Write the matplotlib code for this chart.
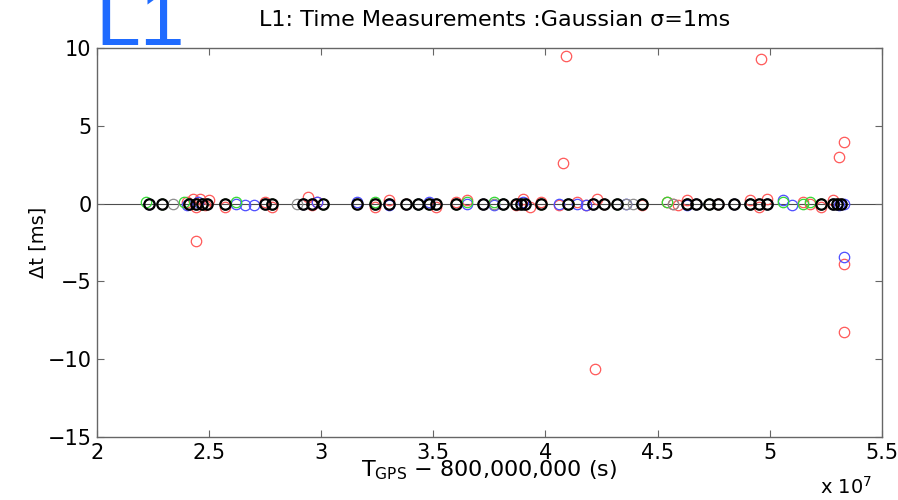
import numpy as np
import matplotlib
matplotlib.use('Agg')
import matplotlib.pyplot as plt

# --- data (x in units of 1e7 s, dt in ms) ---
red_x = [2.40, 2.43, 2.44, 2.46, 2.48, 2.50, 2.57, 2.75, 2.78, 2.94, 2.96, 2.98,
         3.24, 3.30, 3.38, 3.51, 3.60, 3.65, 3.87, 3.90, 3.93, 3.98, 4.06, 4.08,
         4.09, 4.14, 4.18, 4.22, 4.23, 4.26, 4.43, 4.54, 4.57, 4.59, 4.63, 4.77,
         4.91, 4.95, 4.96, 4.99, 5.15, 5.18, 5.23, 5.28, 5.31, 5.32, 5.33, 5.33,
         5.33, 2.44]
red_y = [0.1, 0.3, -0.2, 0.3, -0.1, 0.2, -0.2, 0.1, -0.2, 0.4, -0.1, 0.1,
         -0.2, 0.2, 0.0, -0.2, 0.1, 0.2, -0.1, 0.3, -0.2, 0.1, -0.1, 2.6,
         9.5, 0.1, -0.1, -10.6, 0.3, 0.0, -0.1, 0.1, 0.0, -0.1, 0.2, 0.0,
         0.2, -0.2, 9.3, 0.3, 0.1, 0.0, -0.2, 0.2, 3.0, 0.0, 3.95, -3.85,
         -8.25, -2.4]

blue_x = [2.23, 2.40, 2.45, 2.62, 2.66, 2.70, 2.92, 2.98, 3.16, 3.30, 3.43, 3.48,
          3.65, 3.72, 3.77, 3.81, 3.90, 4.06, 4.14, 4.18, 4.21, 4.36, 4.63, 4.67,
          4.84, 4.91, 4.99, 5.06, 5.10, 5.28, 5.31, 5.33, 5.33]
blue_y = [0.0, -0.1, 0.1, 0.0, -0.1, -0.1, 0.0, 0.1, 0.1, -0.1, 0.0, 0.1,
          0.0, 0.0, -0.1, 0.0, 0.1, 0.0, 0.0, -0.1, 0.0, 0.0, -0.1, 0.0,
          0.0, 0.0, 0.0, 0.2, -0.1, 0.0, -0.1, 0.0, -3.45]

green_x = [2.22, 2.29, 2.39, 2.47, 2.57, 2.62, 2.78, 3.01, 3.24, 3.43, 3.48, 3.60,
           3.65, 3.77, 3.81, 3.98, 4.10, 4.32, 4.43, 4.54, 4.63, 4.73, 4.91, 5.06,
           5.15, 5.18, 5.23]
green_y = [0.1, 0.0, 0.1, 0.0, 0.0, 0.1, 0.0, 0.0, 0.1, 0.0, 0.0, 0.0,
           0.1, 0.1, 0.0, 0.0, 0.0, 0.0, 0.0, 0.1, 0.0, 0.0, 0.0, 0.1,
           0.0, 0.1, 0.0]

black_x = [2.23, 2.29, 2.41, 2.44, 2.47, 2.49, 2.57, 2.75, 2.78, 2.92, 2.96, 3.01,
           3.16, 3.24, 3.30, 3.38, 3.43, 3.48, 3.51, 3.60, 3.72, 3.81, 3.87, 3.89,
           3.91, 3.98, 4.10, 4.21, 4.26, 4.32, 4.43, 4.63, 4.67, 4.73, 4.77, 4.84,
           4.91, 4.95, 4.99, 5.23, 5.28, 5.30, 5.32]
black_y = [0.0] * len(black_x)

grey_x = [2.34, 2.89, 3.77, 4.36, 4.39, 4.57]
grey_y = [0.0, 0.0, 0.0, 0.0, 0.0, 0.0]

# --------------------------------------- Plot -------------------------------------
plt.rcParams['font.family'] = ['DejaVu Sans']
fig = plt.figure(figsize=(8.98, 5.0), dpi=100)
ax = fig.add_axes([0.108, 0.126, 0.874, 0.778])

ax.axhline(0, color='0.3', lw=0.8, zorder=1)

kw = dict(ls='none', marker='o', mfc='none', ms=7.5, mew=0.9, zorder=3)
ax.plot(np.array(red_x) * 1e7, red_y, mec=(1, 0.35, 0.35), **kw)
ax.plot(np.array(blue_x) * 1e7, blue_y, mec=(0.3, 0.3, 1.0), **kw)
ax.plot(np.array(green_x) * 1e7, green_y, mec=(0.2, 0.85, 0.2), **kw)
ax.plot(np.array(grey_x) * 1e7, grey_y, mec='0.55', **kw)
kw['mew'] = 1.6
ax.plot(np.array(black_x) * 1e7, black_y, mec='k', **kw)

ax.set_xlim(2e7, 5.5e7)
ax.set_ylim(-15, 10)
xt = np.arange(2, 5.51, 0.5)
ax.set_xticks(xt * 1e7)
ax.set_xticklabels(['%g' % v for v in xt])
ax.set_yticks([-15, -10, -5, 0, 5, 10])
ax.set_yticklabels(['\u221215', '\u221210', '\u22125', '0', '5', '10'])
ax.tick_params(direction='in', top=True, right=True, labelsize=15, length=5,
               width=0.8, color='0.4', pad=4)
for s in ax.spines.values():
    s.set_color('0.4')
    s.set_linewidth(1.0)

ax.set_ylabel('\u0394t [ms]', fontsize=14, labelpad=0)
ax.set_xlabel('T$_{\\rm GPS}$ \u2212 800,000,000 (s)', fontsize=16, labelpad=-3)
fig.text(0.913, 0.012, 'x 10$^{7}$', fontsize=14)
fig.text(0.551, 0.96, 'L1: Time Measurements :Gaussian \u03c3=1ms',
         fontsize=16, ha='center', va='center')
fig.text(0.106, 0.91, 'L1', fontsize=58, color='#1f6bff', ha='left',
         va='baseline', family='Liberation Sans')

fig.savefig('out.png', dpi=100)
